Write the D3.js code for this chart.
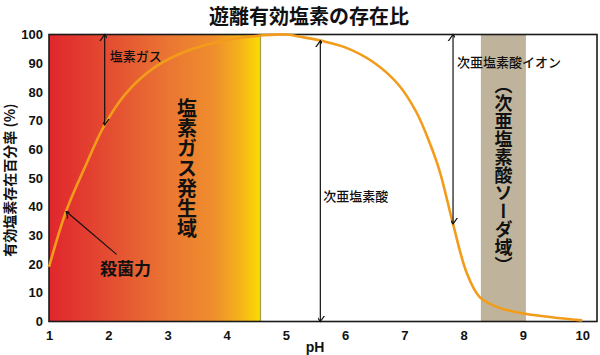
<!DOCTYPE html>
<html><head><meta charset="utf-8">
<script src="https://cdn.jsdelivr.net/npm/d3@7"></script>
<style>
html,body{margin:0;padding:0;background:#fff;}
svg{display:block;}
.cjk{font-family:"Noto Sans CJK JP","Noto Sans CJK SC",sans-serif;}
.num{font-family:"Liberation Sans",Arial,sans-serif;font-weight:bold;}
</style>
</head><body>
<script>
// ---- data ----
const title = "遊離有効塩素の存在比";
const yLabel = "有効塩素存在百分率 (%)";
const xLabel = "pH";
const xTicks = [1,2,3,4,5,6,7,8,9,10];
const yTicks = [0,10,20,30,40,50,60,70,80,90,100];
const curvePH  = [1.0, 1.29, 1.6, 1.94, 2.3, 2.8, 3.37, 4.0, 4.5, 5.0, 5.3, 5.6, 6.0, 6.5, 6.9, 7.2, 7.43, 7.6, 7.82, 8.05, 8.27, 8.61, 9.06, 10.0];
const curveVal = [19, 38.5, 53.5, 68.5, 79.5, 88.8, 94.6, 98, 99.5, 100, 99, 97.8, 95.5, 90, 82.5, 73, 62, 52, 34, 17, 8.5, 4.7, 2.6, 0.4];
const gasZone = [1, 4.57];       // 塩素ガス発生域 (pH range)
const sodaZone = [8.29, 9.05];   // 次亜塩素酸ソーダ域 (pH range)
const arrowNames = ["塩素ガス","殺菌力","次亜塩素酸","次亜塩素酸イオン"];
const arrowX1 = [1.94, 2.14, 5.58, 7.82];
const arrowY1 = [100, 23.4, 97.8, 100];
const arrowX2 = [1.94, 1.29, 5.58, 7.82];
const arrowY2 = [68.5, 38.3, 0, 34];
const arrowBoth = [true, false, true, true];

const W = 600, H = 355;
const svg = d3.select("body").append("svg").attr("width", W).attr("height", H);
const x = d3.scaleLinear().domain([1, 10.25]).range([49, 597]);
const y = d3.scaleLinear().domain([0, 100]).range([321.5, 34.5]);

const defs = svg.append("defs");
const grad = defs.append("linearGradient").attr("id","gasGrad").attr("x1","0").attr("x2","1").attr("y1","0").attr("y2","0");
[[0,"#e0262d"],[0.3,"#e44f31"],[0.55,"#ea7433"],[0.78,"#ef8e2c"],[0.9,"#f4b21c"],[1,"#fadc00"]]
  .forEach(([o,c])=>grad.append("stop").attr("offset",o).attr("stop-color",c));

// marker (open chevron)
defs.append("marker").attr("id","ah").attr("viewBox","-6 -8 12 10").attr("refX",0).attr("refY",0)
  .attr("markerWidth",12).attr("markerHeight",10).attr("markerUnits","userSpaceOnUse").attr("orient","auto-start-reverse")
  .append("path").attr("d","M-5,-7 L0,0 L5,-7").attr("fill","none").attr("stroke","#111").attr("stroke-width",1.2)
  .attr("transform","rotate(-90)");

// zones
svg.append("rect").attr("x", x(gasZone[0])).attr("y", y(100)).attr("width", x(gasZone[1]) - x(gasZone[0]))
  .attr("height", y(0) - y(100)).attr("fill","url(#gasGrad)");
svg.append("line").attr("x1", x(gasZone[1])).attr("x2", x(gasZone[1])).attr("y1", y(100)).attr("y2", y(0))
  .attr("stroke","#a89a48").attr("stroke-width",1.2);
svg.append("rect").attr("x", x(sodaZone[0])).attr("y", y(100)).attr("width", x(sodaZone[1]) - x(sodaZone[0]))
  .attr("height", y(0) - y(100)).attr("fill","#bfb49b");

// frame
svg.append("rect").attr("x", x(1)).attr("y", y(100)).attr("width", x(10.25)-x(1)).attr("height", y(0)-y(100))
  .attr("fill","none").attr("stroke","#1a1a1a").attr("stroke-width",1.6);

// axes
const gx = svg.append("g").attr("transform", `translate(0,${y(0)})`)
  .call(d3.axisBottom(x).tickValues(xTicks).tickSize(0).tickPadding(9).tickFormat(d3.format("d")));
const gy = svg.append("g").attr("transform", `translate(${x(1)},0)`)
  .call(d3.axisLeft(y).tickValues(yTicks).tickSize(0).tickPadding(6).tickFormat(d3.format("d")));
[gx, gy].forEach(g => {
  g.select(".domain").remove();
  g.selectAll("text").attr("class","num").attr("font-size",13).attr("fill","#111");
});

// curve
const pts = curvePH.map((p,i)=>[p, curveVal[i]]);
svg.append("path").datum(pts)
  .attr("d", d3.line().x(d=>x(d[0])).y(d=>y(d[1])).curve(d3.curveCatmullRom.alpha(0.5)))
  .attr("fill","none").attr("stroke","#f39c1b").attr("stroke-width",2.6);

// arrows
arrowNames.forEach((n,i)=>{
  const l = svg.append("line").attr("x1", x(arrowX1[i])).attr("y1", y(arrowY1[i]))
    .attr("x2", x(arrowX2[i])).attr("y2", y(arrowY2[i])).attr("stroke","#111").attr("stroke-width",1.2)
    .attr("marker-end","url(#ah)");
  if (arrowBoth[i]) l.attr("marker-start","url(#ah)");
});

// annotation texts
const txt = (s, px, py, size, weight, anchor) => svg.append("text").attr("class","cjk")
  .attr("x", px).attr("y", py).attr("font-size", size).attr("font-weight", weight)
  .attr("text-anchor", anchor || "start").attr("dominant-baseline","central").attr("fill","#111").text(s);
txt(arrowNames[0], x(arrowX1[0]) + 5, 55, 13, 500);
txt(arrowNames[1], 100, 267, 17, 700);
txt(arrowNames[2], x(arrowX1[2]) + 3, 195, 13, 500);
txt(arrowNames[3], x(arrowX1[3]) + 4, 61, 13, 500);

// vertical zone labels
svg.append("text").attr("class","cjk").attr("x", 187).attr("y", 98).attr("font-size",20).attr("font-weight",700)
  .attr("writing-mode","vertical-rl").attr("fill","#111").attr("dominant-baseline","central")
  .text("塩素ガス発生域");
svg.append("text").attr("class","cjk").attr("x", (x(sodaZone[0])+x(sodaZone[1]))/2).attr("y", 76).attr("font-size",18).attr("font-weight",700)
  .attr("writing-mode","vertical-rl").attr("fill","#111").attr("dominant-baseline","central")
  .text("（次亜塩素酸ソーダ域）");

// title & axis labels
svg.append("text").attr("class","cjk").attr("x", 309).attr("y", 15).attr("text-anchor","middle")
  .attr("dominant-baseline","central").attr("font-size",20).attr("font-weight",700).attr("fill","#111").text(title);
svg.append("text").attr("class","cjk").attr("transform","translate(9,180) rotate(-90)").attr("text-anchor","middle")
  .attr("dominant-baseline","central").attr("font-size",14).attr("font-weight",700).attr("fill","#111").text(yLabel);
svg.append("text").attr("class","num").attr("x", 315).attr("y", 347).attr("text-anchor","middle")
  .attr("dominant-baseline","central").attr("font-size",14).attr("fill","#111").text(xLabel);
</script>
</body></html>
